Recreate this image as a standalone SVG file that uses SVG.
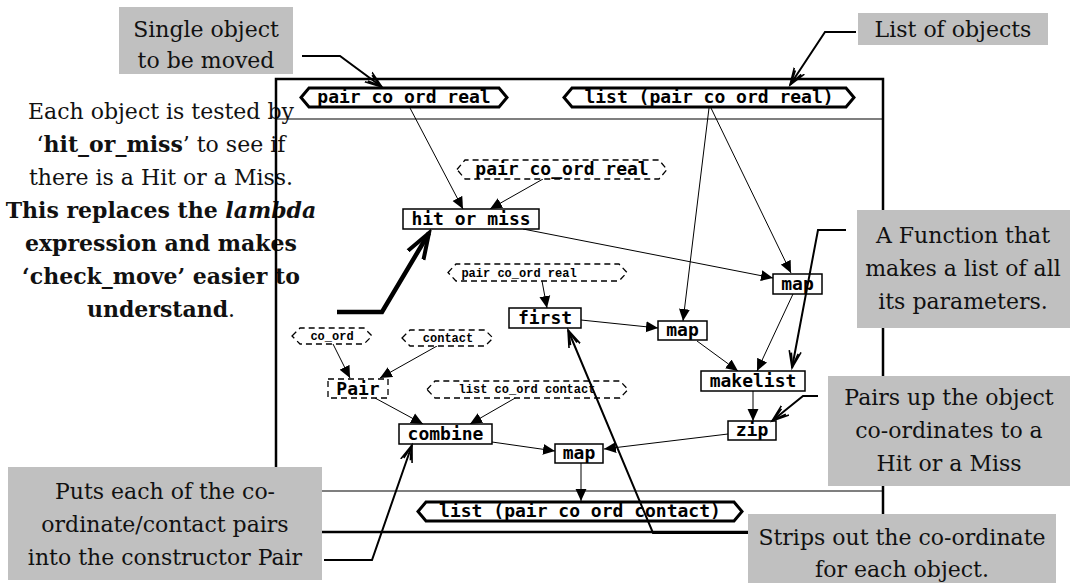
<svg xmlns="http://www.w3.org/2000/svg" width="1070" height="583" viewBox="0 0 1070 583">
<defs>
<style>
.frame{fill:none;stroke:#000;stroke-width:2.5}
.sep{stroke:#000;stroke-width:1.2}
.box{fill:#fff;stroke:#000;stroke-width:1.5}
.dash{fill:#fff;stroke:#000;stroke-width:1.3;stroke-dasharray:6 4}
.tag{fill:#fff;stroke:#000;stroke-width:3}
.mono{font-family:"DejaVu Sans Mono","Liberation Mono",monospace;font-weight:bold;font-size:18px;text-anchor:middle;fill:#000}
.small{font-family:"Liberation Mono","DejaVu Sans Mono",monospace;font-weight:bold;font-size:12px;text-anchor:middle;fill:#000}
.edge{fill:none;stroke:#000;stroke-width:1;marker-end:url(#tri)}
.call{fill:#c0c0c0}
.serif{font-family:"DejaVu Serif","Liberation Serif",serif;font-size:22px;text-anchor:middle;fill:#111}
.cline{fill:none;stroke:#000;stroke-width:2;marker-end:url(#vee)}
.thick{fill:none;stroke:#000;stroke-width:4.5;marker-end:url(#veeb)}
</style>
<marker id="tri" markerUnits="userSpaceOnUse" markerWidth="12" markerHeight="12" refX="11" refY="5" viewBox="0 0 11 10" orient="auto"><path d="M0,0 L11,5 L0,10 z" fill="#000"/></marker>
<marker id="vee" markerUnits="userSpaceOnUse" markerWidth="20" markerHeight="16" refX="17" refY="8" viewBox="0 0 20 16" orient="auto"><path d="M0,2 L17,8 L0,14 M2,4.5 L15,8 L2,11.5" fill="none" stroke="#000" stroke-width="1.6"/></marker>
<marker id="veeb" markerUnits="userSpaceOnUse" markerWidth="30" markerHeight="24" refX="26" refY="12" viewBox="0 0 30 24" orient="auto"><path d="M0,3 L26,12 L0,21" fill="none" stroke="#000" stroke-width="4"/></marker>
</defs>

<g id="left-text" class="serif">
<text x="161" y="119">Each object is tested by</text>
<text x="161" y="152">‘<tspan font-weight="bold">hit_or_miss</tspan>’ to see if</text>
<text x="161" y="185">there is a Hit or a Miss.</text>
<text x="161" y="218" font-weight="bold">This replaces the <tspan font-style="italic">lambda</tspan></text>
<text x="161" y="251" font-weight="bold">expression and makes</text>
<text x="161" y="284" font-weight="bold">‘check_move’ easier to</text>
<text x="161" y="317"><tspan font-weight="bold">understand</tspan>.</text>
</g>

<g id="frame">
<rect class="frame" x="276" y="79" width="607" height="453"/>
<line class="sep" x1="276" y1="119" x2="883" y2="119"/>
<line class="sep" x1="276" y1="491" x2="883" y2="491"/>
</g>

<g id="connectors">
<path class="edge" d="M410,108 L463,209"/>
<path class="edge" d="M543,179 L490,209"/>
<path class="edge" d="M523,229 L773,278"/>
<path class="edge" d="M709,108 L683,321"/>
<path class="edge" d="M711,108 L791,273"/>
<path class="edge" d="M542,281 L547,308"/>
<path class="edge" d="M581,320 L658,328"/>
<path class="edge" d="M697,341 L738,371"/>
<path class="edge" d="M793,294 L757,371"/>
<path class="edge" d="M753,391 L753,421"/>
<path class="edge" d="M728,434 L604,449"/>
<path class="edge" d="M333,344 L350,378"/>
<path class="edge" d="M437,346 L380,378"/>
<path class="edge" d="M375,398 L423,424"/>
<path class="edge" d="M517,397 L470,424"/>
<path class="edge" d="M492,442 L555,451"/>
<path class="edge" d="M581,463 L581,501"/>
</g>

<g id="tag-pair-top">
<path class="tag" d="M301,97.5 L309,88 L499,88 L507,97.5 L499,107 L309,107 Z"/>
<text class="mono" x="404" y="103">pair co ord real</text>
</g>
<g id="tag-list-top">
<path class="tag" d="M564,97.5 L572,88 L846,88 L854,97.5 L846,107 L572,107 Z"/>
<text class="mono" x="709" y="103">list (pair co ord real)</text>
</g>
<g id="tag-list-bottom">
<path class="tag" d="M418,511.5 L426,502 L734,502 L742,511.5 L734,521 L426,521 Z"/>
<text class="mono" x="580" y="517">list (pair co ord contact)</text>
</g>

<g id="node-pair-dashed">
<path class="dash" d="M457,169.5 L465,160 L659,160 L667,169.5 L659,179 L465,179 Z"/>
<text class="mono" x="562" y="175">pair co_ord real</text>
</g>
<g id="node-hit-or-miss">
<rect class="box" x="403" y="209" width="136" height="20"/>
<text class="mono" x="471" y="225">hit or miss</text>
</g>
<g id="node-pair-small">
<path class="dash" d="M448,272.5 L456,264 L619,264 L627,272.5 L619,281 L456,281 Z"/>
<text class="small" x="519" y="277">pair co_ord real</text>
</g>
<g id="node-first">
<rect class="box" x="509" y="308" width="72" height="20"/>
<text class="mono" x="545" y="324">first</text>
</g>
<g id="node-map-mid">
<rect class="box" x="658" y="321" width="49" height="19"/>
<text class="mono" x="682.5" y="336">map</text>
</g>
<g id="node-map-top">
<rect class="box" x="773" y="274" width="49" height="20"/>
<text class="mono" x="797.5" y="290">map</text>
</g>
<g id="node-makelist">
<rect class="box" x="701" y="371" width="104" height="20"/>
<text class="mono" x="753" y="387">makelist</text>
</g>
<g id="node-zip">
<rect class="box" x="728" y="421" width="48" height="19"/>
<text class="mono" x="752" y="436">zip</text>
</g>
<g id="node-co-ord">
<path class="dash" d="M292,336 L300,328 L364,328 L372,336 L364,344 L300,344 Z"/>
<text class="small" x="332" y="340">co_ord</text>
</g>
<g id="node-contact">
<path class="dash" d="M402,338 L410,330 L485,330 L493,338 L485,346 L410,346 Z"/>
<text class="small" x="448" y="342">contact</text>
</g>
<g id="node-Pair">
<rect class="dash" x="328" y="379" width="60" height="19"/>
<text class="mono" x="358" y="395">Pair</text>
</g>
<g id="node-list-co-ord-contact">
<path class="dash" d="M427,389.5 L435,381 L620,381 L628,389.5 L620,398 L435,398 Z"/>
<text class="small" x="527" y="393">list co_ord contact</text>
</g>
<g id="node-combine">
<rect class="box" x="399" y="424" width="93" height="20"/>
<text class="mono" x="445.5" y="440">combine</text>
</g>
<g id="node-map-bottom">
<rect class="box" x="555" y="444" width="48" height="19"/>
<text class="mono" x="579" y="459">map</text>
</g>

<g id="callout-single">
<rect class="call" x="119" y="7" width="174" height="67"/>
<text class="serif" x="206" y="37">Single object</text>
<text class="serif" x="206" y="68">to be moved</text>
<path class="cline" d="M302,56 L340,56 L382,87"/>
</g>
<g id="callout-list">
<rect class="call" x="858" y="13" width="190" height="32"/>
<text class="serif" x="953" y="37">List of objects</text>
<path class="cline" d="M856,32 L825,32 L790,85"/>
</g>
<g id="callout-hit">
<path class="thick" d="M337,312 L382,312 L429,233"/>
</g>
<g id="callout-function">
<rect class="call" x="857" y="210" width="213" height="118"/>
<text class="serif" x="963" y="243">A Function that</text>
<text class="serif" x="963" y="276">makes a list of all</text>
<text class="serif" x="963" y="309">its parameters.</text>
<path class="cline" d="M846,230 L818,230 L792,368"/>
</g>
<g id="callout-pairs">
<rect class="call" x="828" y="376" width="242" height="110"/>
<text class="serif" x="949" y="405">Pairs up the object</text>
<text class="serif" x="949" y="438">co-ordinates to a</text>
<text class="serif" x="949" y="471">Hit or a Miss</text>
<path class="cline" d="M818,396 L803,396 L772,421"/>
</g>
<g id="callout-puts">
<rect class="call" x="8" y="467" width="314" height="113"/>
<text class="serif" x="165" y="499">Puts each of the co-</text>
<text class="serif" x="165" y="532">ordinate/contact pairs</text>
<text class="serif" x="165" y="565">into the constructor Pair</text>
<path class="cline" d="M324,560 L372,560 L412,445"/>
</g>
<g id="callout-strips">
<rect class="call" x="748" y="514" width="308" height="69"/>
<text class="serif" x="902" y="545">Strips out the co-ordinate</text>
<text class="serif" x="902" y="577">for each object.</text>
<path class="cline" d="M748,533 L653,533 L568,330"/>
</g>
</svg>
